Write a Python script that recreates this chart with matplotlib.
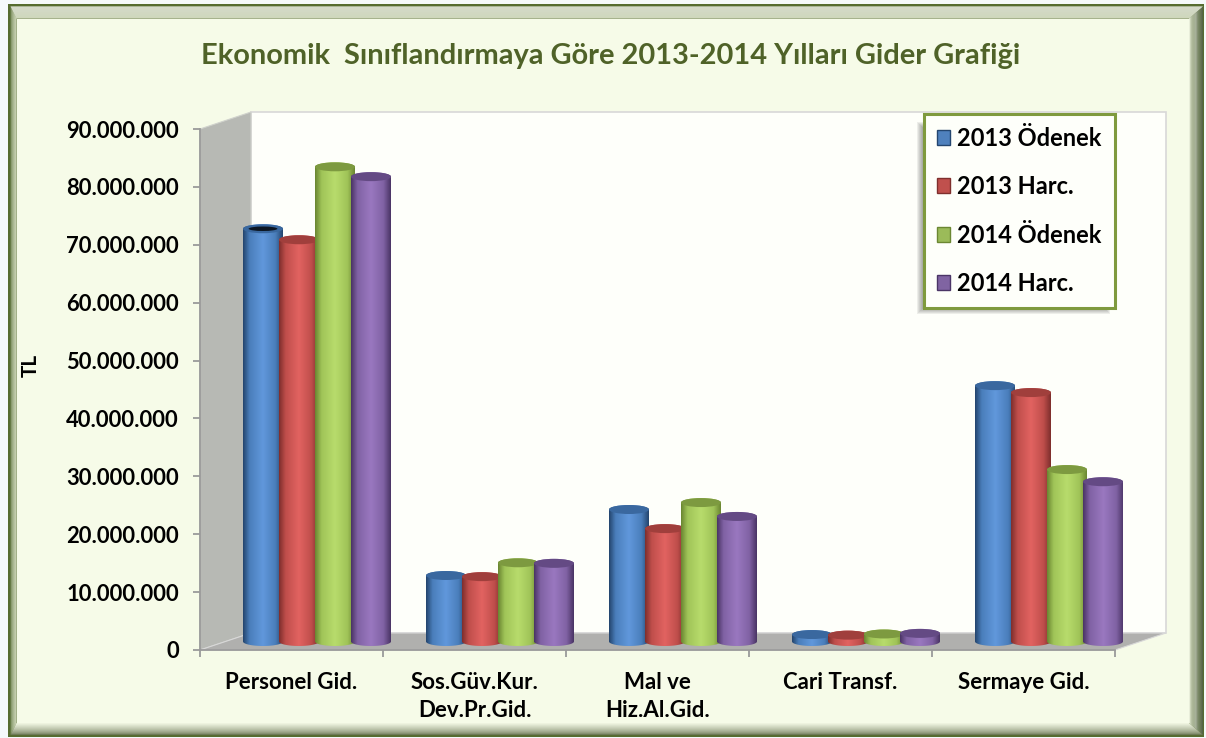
import numpy as np
import matplotlib
matplotlib.use('Agg')
import matplotlib.pyplot as plt
from matplotlib.colors import LinearSegmentedColormap, to_rgb
from matplotlib.patches import Rectangle, Polygon, Ellipse

W, H = 1206, 738

categories = ['Personel Gid.', 'Sos.Güv.Kur.\nDev.Pr.Gid.', 'Mal ve\nHiz.Al.Gid.', 'Cari Transf.', 'Sermaye Gid.']
odenek_2013 = [71300000, 11400000, 22800000, 1200000, 44200000]
harc_2013 = [69400000, 11200000, 19500000, 1100000, 43000000]
odenek_2014 = [82000000, 13600000, 24000000, 1300000, 29700000]
harc_2014 = [80300000, 13500000, 21600000, 1400000, 27600000]
series_names = ['2013 Ödenek', '2013 Harc.', '2014 Ödenek', '2014 Harc.']
yticks = [0, 10000000, 20000000, 30000000, 40000000, 50000000, 60000000, 70000000, 80000000, 90000000]

# dark, mid, light, legend fill, cap
shades = [('#24466f', '#4a7ebb', '#6198dc', '#4f81bd', '#3a689f'),
          ('#7f2f2d', '#bf4e4b', '#e26361', '#c0504d', '#a03f3c'),
          ('#6b8732', '#a0c458', '#b8dc6c', '#9bbb59', '#7d9a40'),
          ('#4b3566', '#8062a4', '#9a78c0', '#8064a2', '#644a84')]

plt.rcParams['font.family'] = ['Lato', 'DejaVu Sans']
plt.rcParams['font.weight'] = 'bold'

fig = plt.figure(figsize=(W / 100, H / 100), dpi=100, facecolor='#f5f9fb')

# frame, pixel coordinates
bg = fig.add_axes([0, 0, 1, 1])
bg.set_xlim(0, W)
bg.set_ylim(H, 0)
bg.axis('off')
bg.add_patch(Rectangle((8, 4), 1196, 733, fc='#566c30', ec='none'))


def mix(a, b, t):
    return tuple(np.array(to_rgb(a)) * (1 - t) + np.array(to_rgb(b)) * t)


cream = '#f6fbe8'
l0, t0, r0, b0 = 10.5, 6.5, 1203, 735
bw_left, bw_top, bw_right, bw_bottom = 6, 12, 14, 12
steps = 12
for i in range(steps):
    f0, f1 = i / steps, (i + 1) / steps
    a = (l0 + bw_left * f0, t0 + bw_top * f0, r0 - bw_right * f0, b0 - bw_bottom * f0)
    b = (l0 + bw_left * f1, t0 + bw_top * f1, r0 - bw_right * f1, b0 - bw_bottom * f1)
    bg.add_patch(Polygon([(a[0], a[1]), (a[2], a[1]), (b[2], b[1]), (b[0], b[1])], fc=mix('#ffffff', cream, f0), ec='none'))
    bg.add_patch(Polygon([(a[0], a[1]), (b[0], b[1]), (b[0], b[3]), (a[0], a[3])], fc=mix('#75885a', cream, f0 ** .6), ec='none'))
    bg.add_patch(Polygon([(a[2], a[1]), (b[2], b[1]), (b[2], b[3]), (a[2], a[3])], fc=mix('#566448', cream, f0), ec='none'))
    bg.add_patch(Polygon([(a[0], a[3]), (a[2], a[3]), (b[2], b[3]), (b[0], b[3])], fc=mix('#6e7a58', cream, f0 ** .7), ec='none'))
bg.add_patch(Rectangle((b[0], b[1]), b[2] - b[0], b[3] - b[1], fc=cream, ec='none'))

bg.text(611, 56, 'Ekonomik  Sınıflandırmaya Göre 2013-2014 Yılları Gider Grafiği',
        color='#4f6228', fontsize=20.9, weight='bold', ha='center', va='center')
bg.text(31, 365, 'TL', rotation=90, fontsize=15, weight='bold', ha='center', va='center')

# main axes: y 0 at pixel 650, 90M at 129, categories from 200 to 1115
ax = fig.add_axes([200 / W, 1 - 650 / H, 915 / W, 521 / H], facecolor='none')
ax.set_xlim(0, 5)
ax.set_ylim(0, 90000000)
depth_x = 51 / 183
depth_y = 17 * 90000000 / 521
ymax = yticks[-1]

ax.add_patch(Polygon([(depth_x, depth_y), (5 + depth_x, depth_y), (5 + depth_x, ymax + depth_y), (depth_x, ymax + depth_y)],
                     fc='#fefffa', ec='#d8d8d8', lw=1.2, clip_on=False, zorder=1))
ax.add_patch(Polygon([(0, 0), (depth_x, depth_y), (depth_x, ymax + depth_y), (0, ymax)],
                     fc='#b7b9b4', ec='#d0d2cc', lw=.8, clip_on=False, zorder=1))
ax.add_patch(Polygon([(0, 0), (5, 0), (5 + depth_x, depth_y), (depth_x, depth_y)],
                     fc='#b0b0ae', ec='#d8d8d8', lw=.8, clip_on=False, zorder=1))


def cylinder(x0, w, value, sh, z, hole=False):
    base = depth_y / 2
    top = base + value
    eh = 9 * 90000000 / 521
    t = np.linspace(0, np.pi, 40)
    xs = x0 + w / 2 + w / 2 * np.cos(t)
    upper = np.column_stack([xs, top + eh / 2 * np.sin(t)])
    lower = np.column_stack([xs[::-1], base - eh / 2 * np.sin(t[::-1])])
    outline = np.vstack([upper, lower])
    cm = LinearSegmentedColormap.from_list('c', [(0, sh[0]), (.16, sh[1]), (.5, sh[2]), (.82, sh[1]), (1, sh[0])])
    im = ax.imshow(np.linspace(0, 1, 64).reshape(1, -1), cmap=cm, aspect='auto', zorder=z,
                   extent=(x0, x0 + w, base - eh, top + eh), interpolation='bilinear')
    clip = Polygon(outline, transform=ax.transData)
    im.set_clip_path(clip)
    im.set_clip_box(fig.bbox)
    ax.add_patch(Ellipse((x0 + w / 2, top), w, eh, fc=sh[4], ec='none', zorder=z + .1, clip_on=False))
    if hole:
        ax.add_patch(Ellipse((x0 + w / 2, top), w * .72, eh * .5, fc='#0c1622', ec='none', zorder=z + .15, clip_on=False))


all_series = [odenek_2013, harc_2013, odenek_2014, harc_2014]
step_w = 36 / 183
bar_w = 40 / 183
for c in range(len(categories)):
    for s, vals in enumerate(all_series):
        x0 = c + 0.5 + depth_x / 2 - 2 * step_w - (bar_w - step_w) / 2 + s * step_w
        cylinder(x0, bar_w, vals[c], shades[s], 3 + c + s * .2, hole=(c == 0 and s == 0))
ax.set_xlim(0, 5)
ax.set_ylim(0, 90000000)

for sp in ['top', 'right']:
    ax.spines[sp].set_visible(False)
for sp in ['left', 'bottom']:
    ax.spines[sp].set_color('#9a9a9a')
    ax.spines[sp].set_linewidth(1.3)
ax.set_yticks(yticks)
ax.set_yticklabels(['0' if v == 0 else f'{v:,}'.replace(',', '.') for v in yticks], fontsize=15.8, weight='bold')
ax.set_xticks(np.arange(6))
ax.set_xticklabels([])
ax.set_xticks(np.arange(5) + .5, categories, minor=True, fontsize=16, weight='bold', linespacing=1.45, va='top')
ax.tick_params(axis='x', which='minor', length=0, pad=15.5)
ax.tick_params(axis='both', which='major', length=5, width=1.3, color='#9a9a9a', pad=10.2)

# soft shadow under the legend
for i in range(7):
    ax.add_patch(Rectangle((917 + i, 122 + i), 190 + 3 - 2 * i, 192 - 2 * i, transform=bg.transData,
                           fc='#444444', alpha=.09, ec='none', clip_on=False, zorder=25))

handles = [Rectangle((0, 0), 1, 1, fc=sh[3], ec=sh[0], lw=1) for sh in shades]
leg = ax.legend(handles, series_names, loc='upper left', bbox_to_anchor=(924 / W, 1 - 114 / H),
                bbox_transform=fig.transFigure, fontsize=17, frameon=True, fancybox=False, framealpha=1,
                facecolor='#fefffa', edgecolor='#7f9a3e', borderaxespad=0, borderpad=.55,
                labelspacing=1.07, handlelength=.56, handleheight=.6, handletextpad=.3)
leg.get_frame().set_linewidth(2.2)
leg.set_zorder(30)

fig.savefig('out.png', dpi=100, facecolor=fig.get_facecolor())
